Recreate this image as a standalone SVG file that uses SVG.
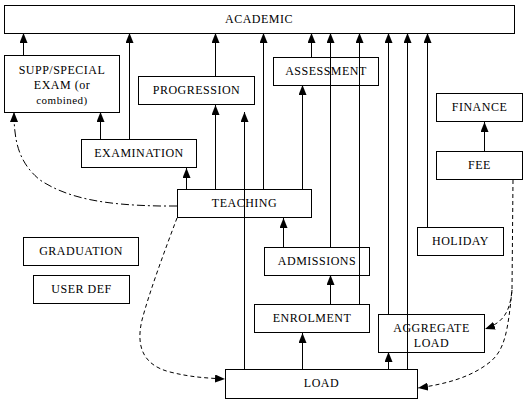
<svg xmlns="http://www.w3.org/2000/svg" width="528" height="406" viewBox="0 0 528 406">
<defs>
<marker id="ah" viewBox="0 0 10 8" refX="10" refY="4" markerWidth="10" markerHeight="8" markerUnits="userSpaceOnUse" orient="auto">
<path d="M0,0 L10,4 L0,8 z" fill="#000"/>
</marker>
<style>
rect{fill:#fff;stroke:#000;stroke-width:1}
text{font-family:"Liberation Serif","Times New Roman",serif;font-size:12px;font-weight:normal;letter-spacing:0.5px;text-anchor:middle;fill:#000}
.c line,.c path{stroke:#000;stroke-width:1;fill:none}
.a{marker-end:url(#ah)}
.d{stroke-dasharray:4,3}
.dd{stroke-dasharray:8,3,2,3}
</style>
</defs>
<rect x="0" y="0" width="528" height="406" style="fill:#fff;stroke:none"/>
<g id="academic"><rect x="4.5" y="5.5" width="510" height="28"/><text x="259" y="23">ACADEMIC</text></g>
<g id="supp"><rect x="4.5" y="55.5" width="115" height="57"/><text x="62" y="74">SUPP/SPECIAL</text><text x="62" y="89">EXAM (or</text><text x="62" y="104" style="font-size:11px">combined)</text></g>
<g id="progression"><rect x="138.5" y="76.5" width="116" height="28"/><text x="196.5" y="94">PROGRESSION</text></g>
<g id="assessment"><rect x="273.5" y="57.5" width="105" height="28"/><text x="326" y="75">ASSESSMENT</text></g>
<g id="finance"><rect x="436.5" y="93.5" width="86" height="28"/><text x="479.5" y="111">FINANCE</text></g>
<g id="examination"><rect x="81.5" y="139.5" width="115" height="28"/><text x="139" y="157">EXAMINATION</text></g>
<g id="fee"><rect x="436.5" y="151.5" width="86" height="28"/><text x="479.5" y="169">FEE</text></g>
<g id="teaching"><rect x="177.5" y="189.5" width="134" height="28"/><text x="244.5" y="207">TEACHING</text></g>
<g id="holiday"><rect x="417.5" y="227.5" width="86" height="28"/><text x="460.5" y="245">HOLIDAY</text></g>
<g id="graduation"><rect x="23.5" y="237.5" width="115" height="28"/><text x="81" y="255">GRADUATION</text></g>
<g id="admissions"><rect x="264.5" y="247.5" width="105" height="28"/><text x="317" y="265">ADMISSIONS</text></g>
<g id="userdef"><rect x="33.5" y="275.5" width="96" height="28"/><text x="81.5" y="293">USER DEF</text></g>
<g id="enrolment"><rect x="254.5" y="304.5" width="115" height="28"/><text x="312" y="322">ENROLMENT</text></g>
<g id="aggregate"><rect x="378.5" y="314.5" width="106" height="38"/><text x="431.5" y="332">AGGREGATE</text><text x="431.5" y="347">LOAD</text></g>
<g id="load"><rect x="225.5" y="369.5" width="192" height="29"/><text x="321.5" y="387">LOAD</text></g>
<g class="c" id="connectors">
<line class="a" x1="23.5" y1="55" x2="23.5" y2="33"/>
<line class="a" x1="129.5" y1="139" x2="129.5" y2="33"/>
<line class="a" x1="215.5" y1="76" x2="215.5" y2="33"/>
<line class="a" x1="263.5" y1="189" x2="263.5" y2="33"/>
<line class="a" x1="311.5" y1="57" x2="311.5" y2="33"/>
<line class="a" x1="330.5" y1="247" x2="330.5" y2="33"/>
<line class="a" x1="359.5" y1="304" x2="359.5" y2="33"/>
<line class="a" x1="388.5" y1="314" x2="388.5" y2="33"/>
<line class="a" x1="407.5" y1="369" x2="407.5" y2="33"/>
<line class="a" x1="427.5" y1="227" x2="427.5" y2="33"/>
<line class="a" x1="100.5" y1="139" x2="100.5" y2="112"/>
<line class="a" x1="186.5" y1="189" x2="186.5" y2="168"/>
<line class="a" x1="215.5" y1="189" x2="215.5" y2="105"/>
<line class="a" x1="244.5" y1="369" x2="244.5" y2="112"/>
<line class="a" x1="302.5" y1="189" x2="302.5" y2="85"/>
<line class="a" x1="283.5" y1="247" x2="283.5" y2="218"/>
<line class="a" x1="330.5" y1="304" x2="330.5" y2="275"/>
<line class="a" x1="302.5" y1="369" x2="302.5" y2="333"/>
<line class="a" x1="388.5" y1="369" x2="388.5" y2="352"/>
<line class="a" x1="484.5" y1="151" x2="484.5" y2="122"/>
<path class="a dd" d="M177,206 L160,206 C110,205 70,200 40,180 C18,162 14,140 14,112"/>
<path class="a d" d="M177,218 C165,250 150,290 142,320 C136,345 142,365 170,372 C190,377 205,378 225,379"/>
<path class="a d" d="M513,180 L512,290 C510,310 505,322 485,329"/>
<path class="a d" d="M512,290 C508,330 505,350 490,362 C470,378 445,384 418,388"/>
</g>
</svg>
